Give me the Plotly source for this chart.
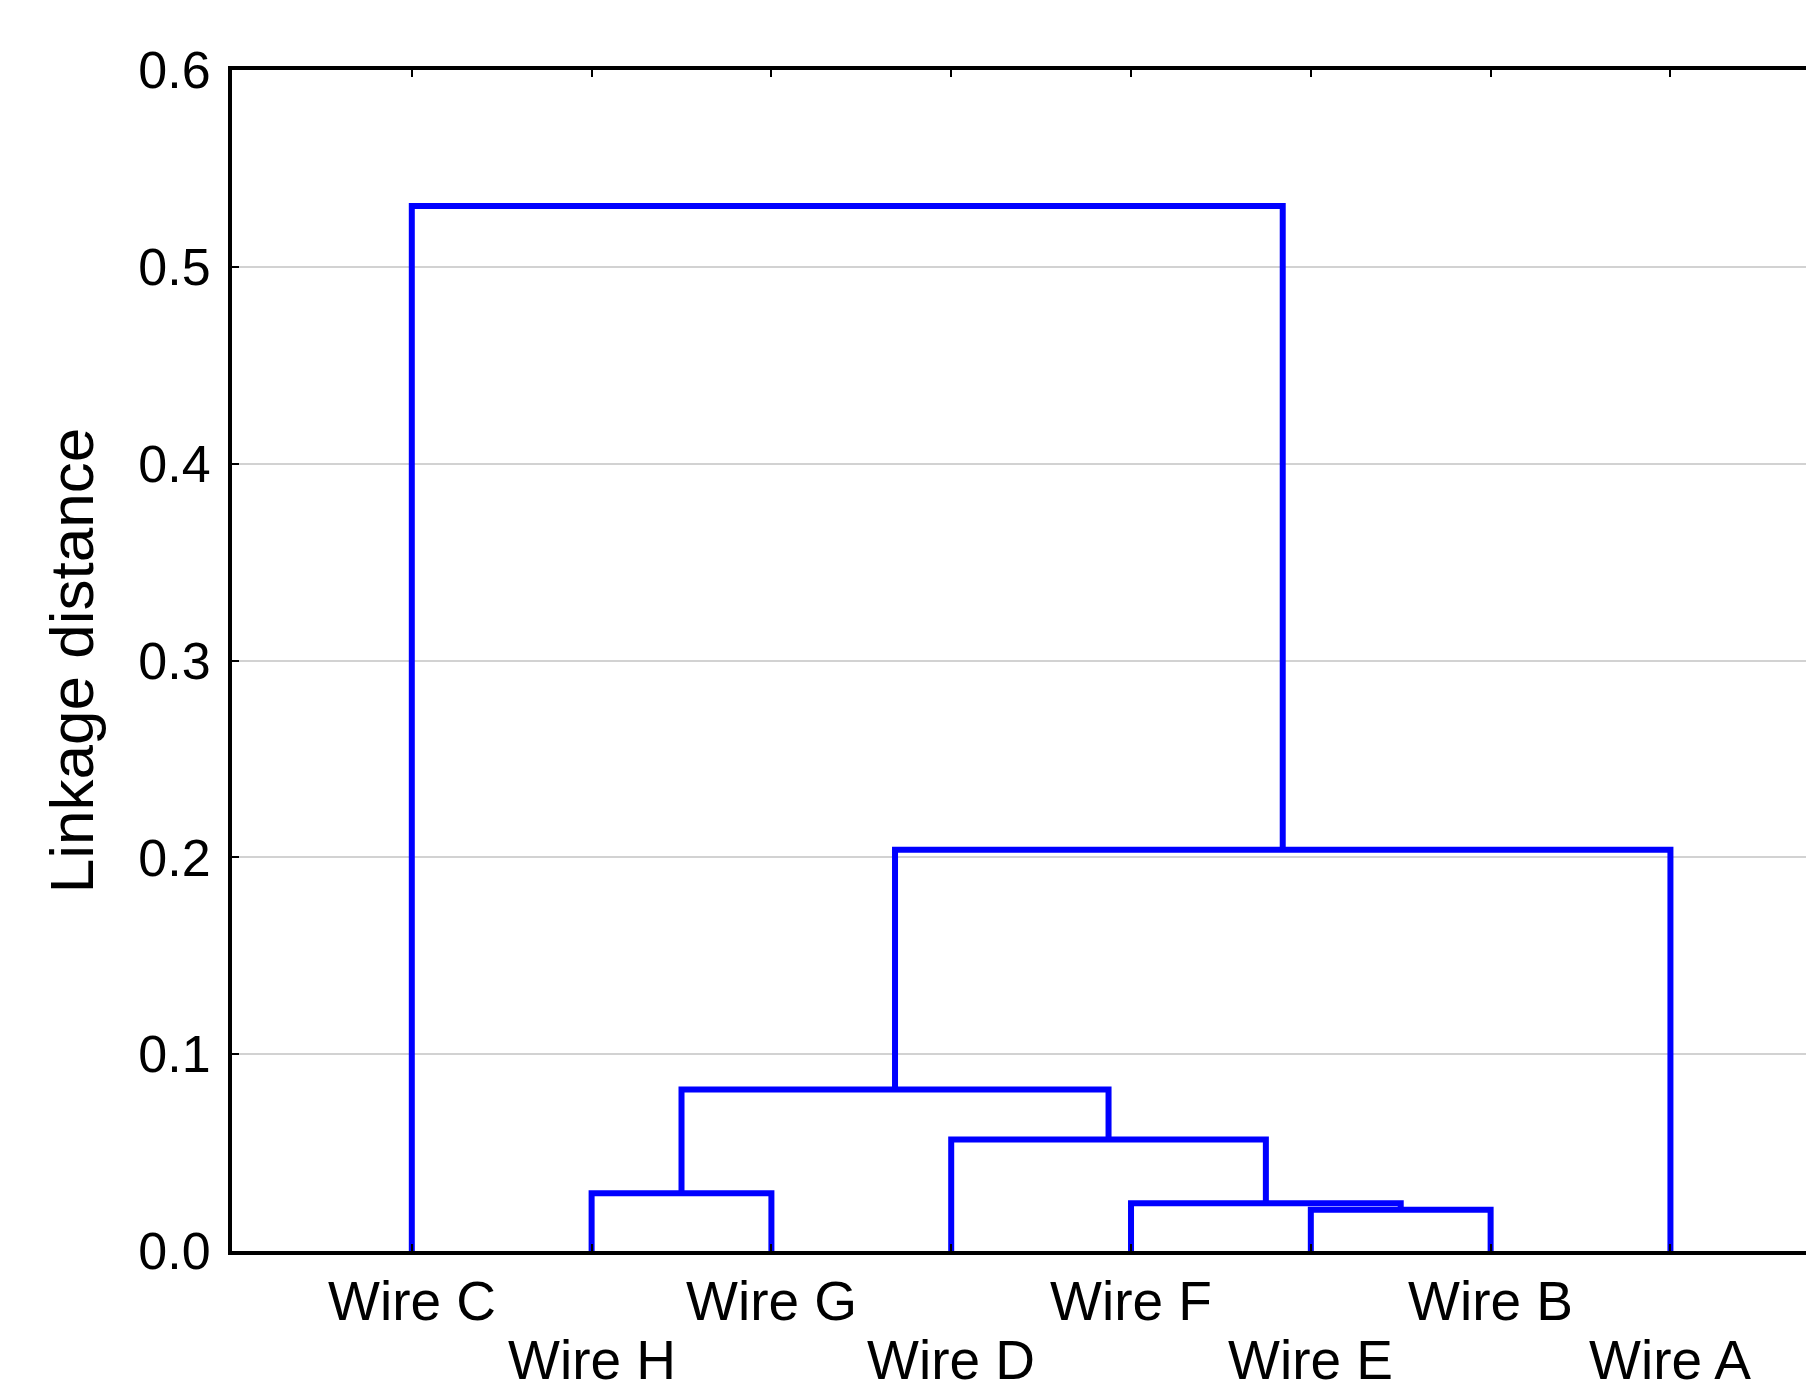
import plotly.graph_objects as go

# Leaf order along the x axis (positions 1..8)
leaves = ["Wire C", "Wire H", "Wire G", "Wire D", "Wire F", "Wire E", "Wire B", "Wire A"]

# Merges: (left member, right member, linkage distance)
merge_left = ["Wire E", "Wire F", "Wire H", "Wire D", "HG", "HGDFEB", "Wire C"]
merge_right = ["Wire B", "EB", "Wire G", "FEB", "DFEB", "Wire A", "HGDFEBA"]
merge_name = ["EB", "FEB", "HG", "DFEB", "HGDFEB", "HGDFEBA", "ALL"]
merge_height = [0.021, 0.0243, 0.0294, 0.0566, 0.0820, 0.2038, 0.5309]

y_ticks = [0.0, 0.1, 0.2, 0.3, 0.4, 0.5, 0.6]

# Build dendrogram segments
pos = {name: (i + 1, 0.0) for i, name in enumerate(leaves)}
xs, ys = [], []
for a, b, n, h in zip(merge_left, merge_right, merge_name, merge_height):
    xa, ha = pos[a]
    xb, hb = pos[b]
    xs += [xa, xa, xb, xb, None]
    ys += [ha, h, h, hb, None]
    pos[n] = ((xa + xb) / 2, h)

FONT = "Liberation Sans, Arial, sans-serif"

fig = go.Figure()
fig.add_trace(go.Scatter(x=xs, y=ys, mode="lines",
                         line=dict(color="#0000ff", width=6),
                         hoverinfo="skip", showlegend=False))

leaf_x = list(range(1, len(leaves) + 1))
for i, (lx, name) in enumerate(zip(leaf_x, leaves)):
    fig.add_annotation(x=lx, xref="x", y=0, yref="paper", text=name,
                       showarrow=False, yanchor="middle",
                       yshift=-50 if i % 2 == 0 else -109,
                       font=dict(family=FONT, size=55, color="black"))

fig.update_layout(
    width=1814, height=1385,
    margin=dict(l=224, r=0, t=62, b=142, pad=0),
    paper_bgcolor="white", plot_bgcolor="white",
    font=dict(family=FONT, color="black"),
    xaxis=dict(range=[0, 8.843], tickvals=leaf_x, ticktext=[""] * len(leaves),
               showticklabels=False, ticks="inside", ticklen=7, tickwidth=2,
               tickcolor="black", showline=True, linecolor="black", linewidth=4,
               mirror="allticks", showgrid=False, zeroline=False),
    yaxis=dict(range=[0, 0.6], tickvals=y_ticks, tickformat=".1f",
               ticks="inside", ticklen=7, tickwidth=2, tickcolor="black",
               showline=True, linecolor="black", linewidth=4, mirror=False,
               showgrid=True, gridcolor="#d2d2d2", gridwidth=2, zeroline=False,
               tickfont=dict(family=FONT, size=52, color="black"),
               ticklabelstandoff=7,
               title=dict(text="Linkage distance", standoff=26,
                          font=dict(family=FONT, size=62, color="black"))),
)

fig.write_html("out.html")
